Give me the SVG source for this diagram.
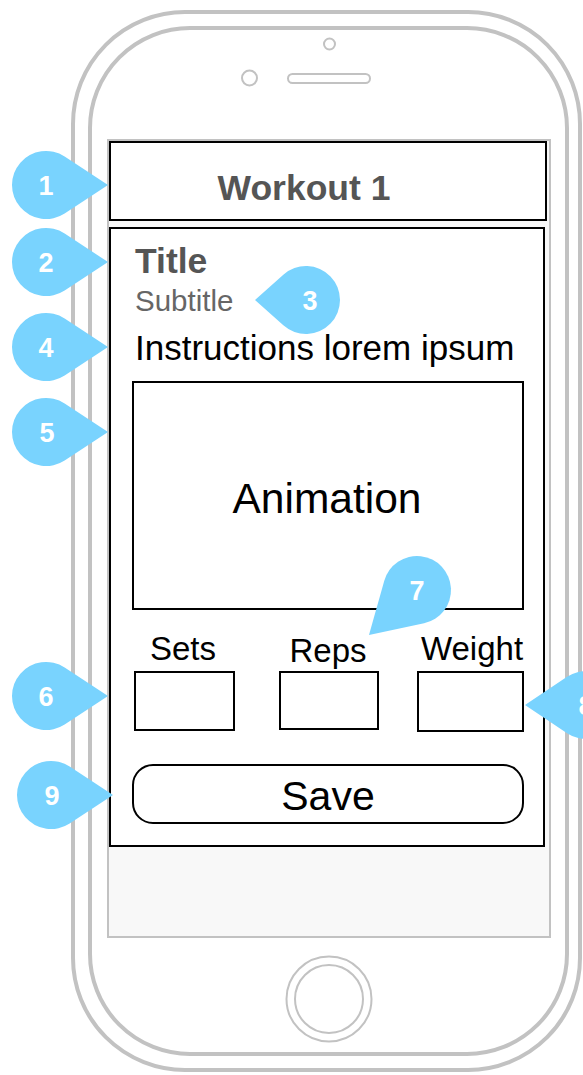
<svg xmlns="http://www.w3.org/2000/svg" width="583" height="1075" viewBox="0 0 583 1075">
<style>
.ph{fill:none;stroke:#c2c2c2;stroke-width:4}
.ph2{fill:none;stroke:#c2c2c2;stroke-width:2}
.box{fill:#fff;stroke:#000;stroke-width:2}
.t{font-family:"Liberation Sans",Arial,Helvetica,sans-serif}
.mk{fill:#79d3fe}
.mn{font-family:"Liberation Sans",Arial,sans-serif;font-weight:bold;font-size:27px;fill:#fff;text-anchor:middle}
</style>
<rect width="583" height="1075" fill="#fff"/>
<g id="phone">
<rect class="ph" x="73" y="12" width="507" height="1058" rx="112" ry="112"/>
<rect class="ph" x="90" y="28" width="477" height="1026" rx="100" ry="100"/>
<circle class="ph2" cx="329.5" cy="44" r="5.5"/>
<circle class="ph2" cx="249.5" cy="78" r="7.5"/>
<rect class="ph2" x="288" y="74" width="82" height="9" rx="4.5"/>
<rect x="108" y="140" width="442" height="797" fill="#f8f8f8" stroke="#c2c2c2" stroke-width="2"/>
<circle class="ph2" cx="329" cy="999" r="42.5"/>
<circle class="ph2" cx="329" cy="999" r="34"/>
</g>
<g id="header">
<rect class="box" x="110" y="142" width="436" height="78"/>
<text class="t" x="304" y="200" font-size="35.5" font-weight="bold" fill="#555" text-anchor="middle">Workout 1</text>
</g>
<g id="content">
<rect class="box" x="110" y="228" width="434" height="618"/>
<text class="t" x="135" y="273" font-size="35.5" font-weight="bold" fill="#555">Title</text>
<text class="t" x="135" y="311" font-size="29.5" fill="#666">Subtitle</text>
<text class="t" x="135" y="360" font-size="35" fill="#000">Instructions lorem ipsum</text>
</g>
<g id="animation">
<rect class="box" x="133" y="382" width="390" height="227"/>
<text class="t" x="327" y="513" font-size="42.5" fill="#000" text-anchor="middle">Animation</text>
</g>
<g id="sets">
<text class="t" x="183" y="660" font-size="33" fill="#000" text-anchor="middle">Sets</text>
<rect class="box" x="135" y="672" width="99" height="58"/>
</g>
<g id="reps">
<text class="t" x="328" y="662" font-size="33" fill="#000" text-anchor="middle">Reps</text>
<rect class="box" x="280" y="672" width="98" height="57"/>
</g>
<g id="weight">
<text class="t" x="472" y="660" font-size="33" fill="#000" text-anchor="middle">Weight</text>
<rect class="box" x="418" y="672" width="105" height="59"/>
</g>
<g id="save">
<rect class="box" x="133" y="765" width="390" height="58" rx="20" ry="20"/>
<text class="t" x="328" y="810" font-size="41" fill="#000" text-anchor="middle">Save</text>
</g>
<g id="connectors"></g>
<g id="marker1"><path class="mk" d="M108,185 L64.65,156.57 A34,34 0 1 0 64.65,213.43 Z"/><text class="mn" x="46" y="195">1</text></g>
<g id="marker2"><path class="mk" d="M108,262 L64.65,233.57 A34,34 0 1 0 64.65,290.43 Z"/><text class="mn" x="46" y="272">2</text></g>
<g id="marker3"><path class="mk" d="M255,300 L283.33,274.66 A34,34 0 1 1 283.33,325.34 Z"/><text class="mn" x="310" y="310">3</text></g>
<g id="marker4"><path class="mk" d="M108,347 L64.65,318.57 A34,34 0 1 0 64.65,375.43 Z"/><text class="mn" x="46" y="357">4</text></g>
<g id="marker5"><path class="mk" d="M108,432 L64.65,403.57 A34,34 0 1 0 64.65,460.43 Z"/><text class="mn" x="47" y="442">5</text></g>
<g id="marker6"><path class="mk" d="M108,696 L64.65,667.57 A34,34 0 1 0 64.65,724.43 Z"/><text class="mn" x="46" y="706">6</text></g>
<g id="marker7"><path class="mk" d="M369,635 L384.27,580.78 A34,34 0 1 1 424.1,623.25 Z"/><text class="mn" x="417" y="600">7</text></g>
<g id="marker8"><path class="mk" d="M525,705 L567.05,676.77 A34,34 0 1 1 567.05,733.23 Z"/><text class="mn" x="586" y="715">8</text></g>
<g id="marker9"><path class="mk" d="M113,795 L69.65,766.57 A34,34 0 1 0 69.65,823.43 Z"/><text class="mn" x="52" y="805">9</text></g>
</svg>
